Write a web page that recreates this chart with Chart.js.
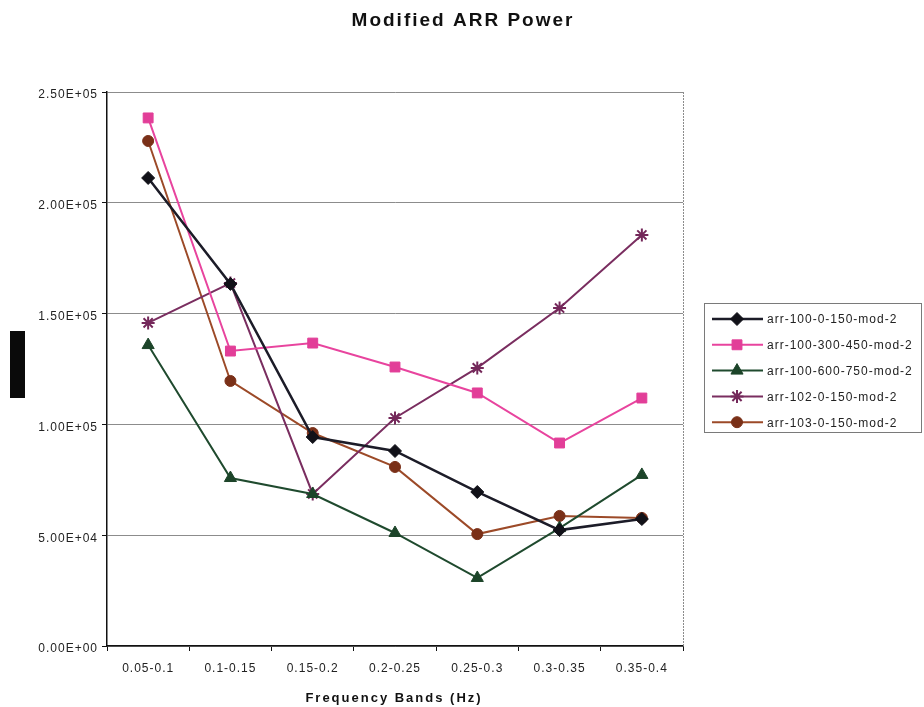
<!DOCTYPE html>
<html>
<head>
<meta charset="utf-8">
<title>Modified ARR Power</title>
<script src="https://cdn.jsdelivr.net/npm/chart.js@4.4.1/dist/chart.umd.min.js"></script>
<style>
  html, body { margin: 0; padding: 0; background: #fff; }
  #power-chart { display: block; }
</style>
</head>
<body>
<canvas id="power-chart" width="924" height="707"></canvas>
<script>
// frequency bands along the x axis
var bands = ['0.05-0.1', '0.1-0.15', '0.15-0.2', '0.2-0.25', '0.25-0.3', '0.3-0.35', '0.35-0.4']

// power per band for each recording
var arr_100_0_150 = [211200, 163400, 94300, 88000, 69500, 52300, 57300]
var arr_100_300_450 = [238300, 133100, 136700, 125900, 114200, 91600, 111900]
var arr_100_600_750 = [135800, 75800, 68600, 51000, 30700, 53200, 77200]
var arr_102_0_150 = [145800, 163800, 68600, 102900, 125500, 152500, 185500]
var arr_103_0_150 = [227900, 119600, 96100, 80800, 50500, 58700, 57800]

var series_names = ['arr-100-0-150-mod-2', 'arr-100-300-450-mod-2', 'arr-100-600-750-mod-2', 'arr-102-0-150-mod-2', 'arr-103-0-150-mod-2']

var y_ticks = [0, 50000, 100000, 150000, 200000, 250000]

var FONT = "'Liberation Sans', Arial, sans-serif"

function sci(v) {
    if (v === 0) return '0.00E+00'
    var e = Math.floor(Math.log10(v) + 1e-9)
    var m = v / Math.pow(10, e)
    return m.toFixed(2) + 'E+' + String(e).padStart(2, '0')
}

function makeSet(name, values, line, marker, style, radius, width) {
    return {
        label: name,
        data: values,
        borderColor: line,
        borderWidth: width,
        pointStyle: style,
        pointRadius: radius,
        pointHoverRadius: radius,
        pointBackgroundColor: marker,
        pointBorderColor: marker,
        pointBorderWidth: style === 'star' ? 2 : 1,
        tension: 0,
        fill: false
    }
}

var datasets = [
    makeSet(series_names[0], arr_100_0_150, '#1c1c28', '#111118', 'rectRot', 6.5, 2.5),
    makeSet(series_names[1], arr_100_300_450, '#e8449e', '#e23e98', 'rect', 7, 2),
    makeSet(series_names[2], arr_100_600_750, '#1f4a2e', '#1c4429', 'triangle', 7, 2),
    makeSet(series_names[3], arr_102_0_150, '#7a2e60', '#74285a', 'star', 6.5, 2),
    makeSet(series_names[4], arr_103_0_150, '#9c4a28', '#7a3018', 'circle', 5.5, 2)
]

// titles, legend box, frame and the label block on the left
var decor = {
    id: 'decor',
    beforeDraw: function (chart) {
        chart.ctx.letterSpacing = '1px'
    },
    afterDraw: function (chart) {
        var ctx = chart.ctx
        var area = chart.chartArea
        ctx.save()

        // right edge of the plot
        ctx.strokeStyle = '#8c8c8c'
        ctx.lineWidth = 1
        ctx.setLineDash([2, 1])
        ctx.beginPath()
        ctx.moveTo(area.right + 0.5, area.top)
        ctx.lineTo(area.right + 0.5, area.bottom)
        ctx.stroke()
        ctx.setLineDash([])

        // chart title
        ctx.fillStyle = '#111'
        ctx.textAlign = 'center'
        ctx.textBaseline = 'middle'
        ctx.letterSpacing = '2px'
        ctx.font = 'bold 19px ' + FONT
        ctx.fillText('Modified ARR Power', 463, 21)

        // x axis title
        ctx.font = 'bold 13px ' + FONT
        ctx.fillText('Frequency Bands (Hz)', 394, 698)

        // block where the y axis title sits
        ctx.fillStyle = '#0a0a0a'
        ctx.fillRect(10, 331, 15, 67)

        // legend
        var box = { x: 704, y: 303, w: 217, h: 129 }
        ctx.strokeStyle = '#7a7a7a'
        ctx.lineWidth = 1
        ctx.strokeRect(box.x + 0.5, box.y + 0.5, box.w, box.h)
        ctx.letterSpacing = '1px'
        ctx.font = '12px ' + FONT
        ctx.textAlign = 'left'
        chart.data.datasets.forEach(function (ds, i) {
            var yy = 319 + i * 25.8
            ctx.strokeStyle = ds.borderColor
            ctx.lineWidth = ds.borderWidth
            ctx.beginPath()
            ctx.moveTo(712, yy)
            ctx.lineTo(763, yy)
            ctx.stroke()
            ctx.fillStyle = ds.pointBackgroundColor
            ctx.strokeStyle = ds.pointBorderColor
            ctx.lineWidth = ds.pointBorderWidth
            Chart.helpers.drawPoint(ctx, {
                pointStyle: ds.pointStyle,
                radius: ds.pointRadius,
                rotation: 0,
                borderWidth: ds.pointBorderWidth
            }, 737, yy)
            ctx.fillStyle = '#222'
            ctx.fillText(ds.label, 767, yy + 1)
        })
        ctx.restore()
    }
}

var config = {
    type: 'line',
    data: {
        labels: bands,
        datasets: datasets
    },
    options: {
        responsive: false,
        animation: false,
        events: [],
        layout: {
            padding: { top: 92, right: 241, left: 0, bottom: 0 }
        },
        plugins: {
            legend: { display: false },
            title: { display: false },
            tooltip: { enabled: false }
        },
        scales: {
            x: {
                offset: true,
                grid: {
                    offset: true,
                    drawOnChartArea: false,
                    drawTicks: true,
                    tickLength: 5,
                    tickColor: '#111'
                },
                border: { color: '#111', width: 1.5 },
                ticks: {
                    color: '#222',
                    padding: 10,
                    maxRotation: 0,
                    autoSkip: false,
                    font: { family: FONT, size: 12 }
                },
                afterFit: function (scale) {
                    scale.height = 61
                    scale.paddingLeft = 0
                    scale.paddingRight = 0
                }
            },
            y: {
                min: 0,
                max: 250000,
                afterBuildTicks: function (scale) {
                    scale.ticks = y_ticks.map(function (v) { return { value: v } })
                },
                grid: {
                    color: '#8c8c8c',
                    lineWidth: 1,
                    drawTicks: true,
                    tickLength: 5,
                    tickColor: '#111'
                },
                border: { color: '#111', width: 1.5 },
                ticks: {
                    color: '#222',
                    padding: 4,
                    labelOffset: 3,
                    font: { family: FONT, size: 12 },
                    callback: function (v) { return sci(v) }
                },
                afterFit: function (scale) {
                    scale.width = 107
                    scale.paddingTop = 0
                    scale.paddingBottom = 0
                }
            }
        }
    },
    plugins: [decor]
}

var power_chart = new Chart(document.getElementById('power-chart').getContext('2d'), config)
</script>
</body>
</html>
